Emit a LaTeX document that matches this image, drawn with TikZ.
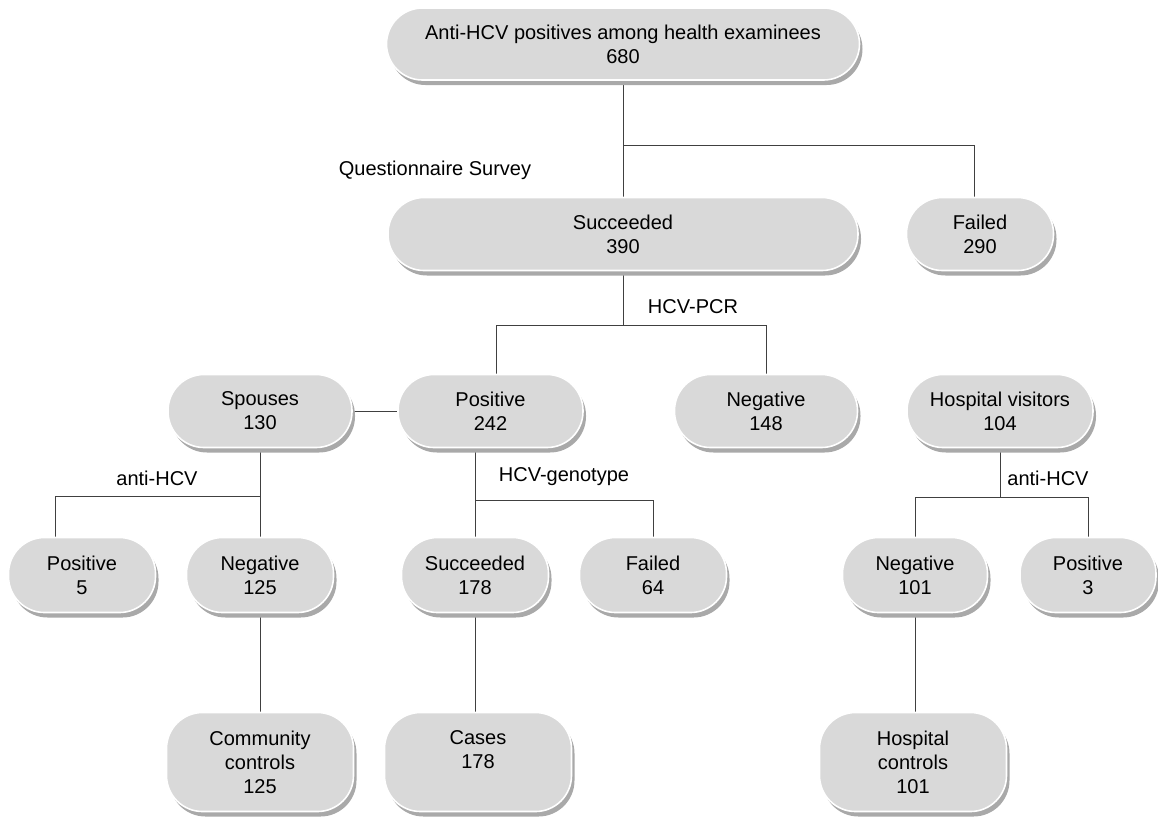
\documentclass[tikz,border=0pt]{standalone}
\usepackage{fontspec}
\setmainfont{Liberation Sans}
\usetikzlibrary{shadows,backgrounds}
\definecolor{boxgray}{HTML}{D9D9D9}
\definecolor{shadegray}{HTML}{A9A9A9}
\tikzset{
	box/.style={rounded corners=18pt, fill=boxgray, draw=white, line width=0.8pt,
		align=center, inner sep=0pt, minimum height=36.5pt,
		drop shadow={shadow xshift=1.5pt, shadow yshift=-2.5pt, fill=shadegray, opacity=1}},
	link/.style={draw=black!75, line width=0.5pt}
}

\begin{document}
\begin{tikzpicture}[x=0.5pt, y=-0.5pt]
	\useasboundingbox (0,0) rectangle (1158,816);
	\node[box, minimum width=236.5pt, minimum height=36pt] (top) at (623,44) {Anti-HCV positives among health examinees\\680};
	\node[box, minimum width=235pt] (succ) at (623,234) {Succeeded\\390};
	\node[box, minimum width=73.5pt] (fail1) at (980,234) {Failed\\290};
	\node[box, minimum width=92pt] (spouse) at (260,411) {Spouses\\130};
	\node[box, minimum width=92.5pt] (pos242) at (490.5,411) {Positive\\242};
	\node[box, minimum width=91.5pt] (neg148) at (766,411) {Negative\\148};
	\node[box, minimum width=93pt] (hosp) at (1000,411) {Hospital visitors\\104};
	\node[box, minimum width=73.5pt, minimum height=37.5pt] (pos5) at (82,575) {Positive\\5};
	\node[box, minimum width=73.5pt, minimum height=37.5pt] (neg125) at (260,575) {Negative\\125};
	\node[box, minimum width=73.5pt, minimum height=37.5pt] (succ178) at (475,575) {Succeeded\\178};
	\node[box, minimum width=73.5pt, minimum height=37.5pt] (fail64) at (653,575) {Failed\\64};
	\node[box, minimum width=72.5pt, minimum height=37.5pt] (neg101) at (915,575) {Negative\\101};
	\node[box, minimum width=68pt, minimum height=37.5pt] (pos3) at (1088,575) {Positive\\3};
	\node[box, minimum width=93.5pt, minimum height=49.5pt] (community) at (260,762) {Community\\controls\\125};
	\node[box, minimum width=93.5pt, minimum height=49.5pt] (cases) at (478,762) {Cases\\178\\\phantom{1}};
	\node[box, minimum width=93.5pt, minimum height=49.5pt] (hospctl) at (913,762) {Hospital\\controls\\101};
	% branch labels
	\node (survey) at (435,170) {Questionnaire Survey};
	\node (pcr) at (693,307) {HCV-PCR};
	\node (anti1) at (157,478) {anti-HCV};
	\node (geno) at (564,477) {HCV-genotype};
	\node (anti2) at (1048,478) {anti-HCV};
	\coordinate (j1) at (623,145);
	\coordinate (j2) at (623,325);
	\coordinate (j3) at (260,496);
	\coordinate (j4) at (475,500);
	\coordinate (j5) at (1000,497);
	\begin{pgfonlayer}{background}
		\draw[link] (top) -- (succ);
		\draw[link] (j1) -| ([xshift=-3pt]fail1.north);
		\draw[link] (succ) -- (j2);
		\draw[link] ([xshift=2.75pt]pos242.north) |- (j2) -| (neg148.north);
		\draw[link] (spouse) -- (pos242);
		\draw[link] (spouse) -- (j3);
		\draw[link] ([xshift=-13.5pt]pos5.north) |- (j3) -- (neg125.north);
		\draw[link] ([xshift=-7.75pt]pos242.south) -- (j4);
		\draw[link] (succ178.north) |- (j4) -| (fail64.north);
		\draw[link] (hosp) -- (j5);
		\draw[link] (neg101.north) |- (j5) -| (pos3.north);
		\draw[link] (neg125) -- (community);
		\draw[link] (succ178) -- (succ178 |- cases.north);
		\draw[link] (neg101) -- (neg101 |- hospctl.north);
	\end{pgfonlayer}
\end{tikzpicture}
\end{document}
